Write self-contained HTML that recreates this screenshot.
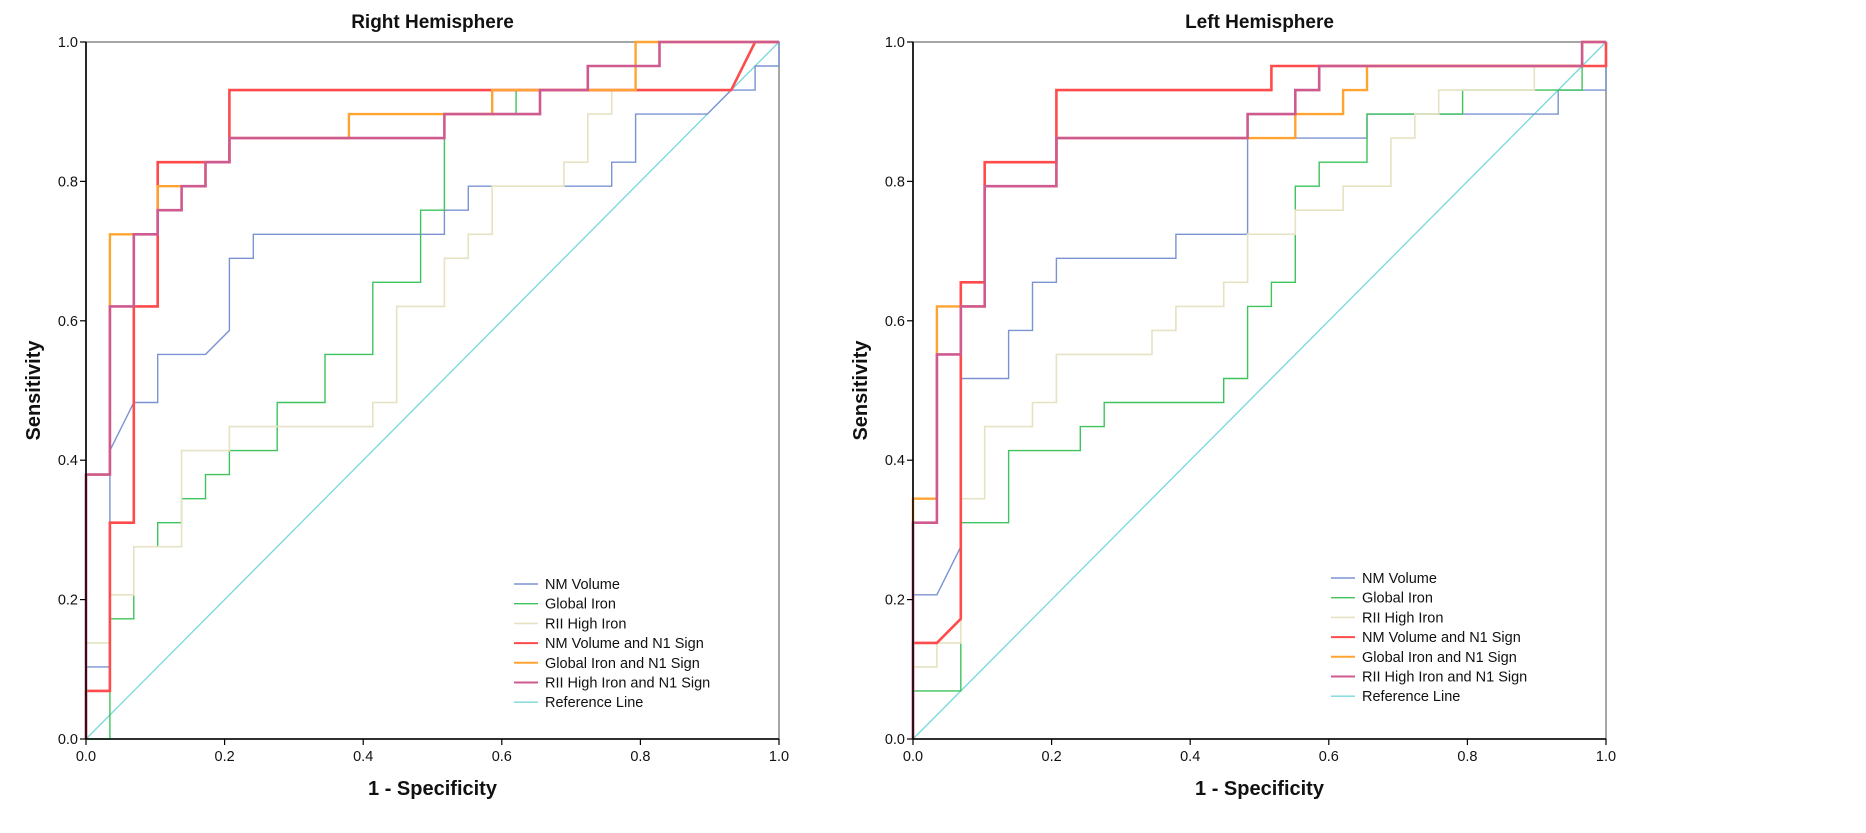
<!DOCTYPE html>
<html><head><meta charset="utf-8"><style>
html,body{margin:0;padding:0;background:#fff;}
svg{display:block;font-family:"Liberation Sans",sans-serif;}
</style></head><body>
<svg id="c" width="1866" height="833"></svg>
<script>
const N = 29;
const ticks = [0, 0.2, 0.4, 0.6, 0.8, 1.0];
const tickLabels = ["0.0","0.2","0.4","0.6","0.8","1.0"];
const seriesNames = ["NM Volume","Global Iron","RII High Iron","NM Volume and N1 Sign","Global Iron and N1 Sign","RII High Iron and N1 Sign","Reference Line"];
// Right hemisphere (counts out of N)
const rhNMx = [0,0,1,1,2,3,3,5,6,6,7,7,15,15,16,16,22,22,23,23,26,27,28,28,29,29];
const rhNMy = [0,3,3,12,14,14,16,16,17,20,20,21,21,22,22,23,23,24,24,26,26,27,27,28,28,29];
const rhGIx = [0,1,1,2,2,3,3,4,4,5,5,6,6,8,8,10,10,12,12,14,14,15,15,18,18,23,23,24,24,29];
const rhGIy = [0,0,5,5,8,8,9,9,10,10,11,11,12,12,14,14,16,16,19,19,22,22,26,26,27,27,28,28,29,29];
const rhRIx = [0,0,1,1,2,2,4,4,6,6,12,12,13,13,15,15,16,16,17,17,20,20,21,21,22,22,23,23,24,24,29];
const rhRIy = [0,4,4,6,6,8,8,12,12,13,13,14,14,18,18,20,20,21,21,23,23,24,24,26,26,27,27,28,28,29,29];
const rhNMN1x = [0,0,1,1,2,2,3,3,6,6,27,28,29];
const rhNMN1y = [0,2,2,9,9,18,18,24,24,27,27,29,29];
const rhGIN1x = [0,0,1,1,3,3,5,5,6,6,11,11,17,17,23,23,29];
const rhGIN1y = [0,11,11,21,21,23,23,24,24,25,25,26,26,27,27,29,29];
const rhRIN1x = [0,0,1,1,2,2,3,3,4,4,5,5,6,6,15,15,19,19,21,21,24,24,29];
const rhRIN1y = [0,11,11,18,18,21,21,22,22,23,23,24,24,25,25,26,26,27,27,28,28,29,29];
// Left hemisphere
const lhNMx = [0,0,1,2,2,4,4,5,5,6,6,11,11,14,14,19,19,27,27,29,29];
const lhNMy = [0,6,6,8,15,15,17,17,19,19,20,20,21,21,25,25,26,26,27,27,29];
const lhGIx = [0,0,2,2,4,4,7,7,8,8,13,13,14,14,15,15,16,16,17,17,19,19,23,23,28,28,29];
const lhGIy = [0,2,2,9,9,12,12,13,13,14,14,15,15,18,18,19,19,23,23,24,24,26,26,27,27,29,29];
const lhRIx = [0,0,1,1,2,2,3,3,5,5,6,6,10,10,11,11,13,13,14,14,16,16,18,18,20,20,21,21,22,22,26,26,28,28,29];
const lhRIy = [0,3,3,4,4,10,10,13,13,14,14,16,16,17,17,18,18,19,19,21,21,22,22,23,23,25,25,26,26,27,27,28,28,29,29];
const lhNMN1x = [0,0,1,2,2,3,3,6,6,15,15,29,29];
const lhNMN1y = [0,4,4,5,19,19,24,24,27,27,28,28,29];
const lhGIN1x = [0,0,1,1,2,3,3,6,6,16,16,18,18,19,19,28,28,29];
const lhGIN1y = [0,10,10,18,18,18,23,23,25,25,26,26,27,27,28,28,29,29];
const lhRIN1x = [0,0,1,1,2,2,3,3,6,6,14,14,16,16,17,17,28,28,29];
const lhRIN1y = [0,9,9,16,16,18,18,23,23,25,25,26,26,27,27,28,28,29,29];
const refX = [0,1];
const refY = [0,1];

const colors = ["#7b93d2","#3dc45c","#e6e2c2","#ff4b4b","#ffa432","#cf5a8f","#78d8dc"];
const widths = [1.4,1.4,1.6,2.6,2.4,2.6,1.3];
const NS = "http://www.w3.org/2000/svg";
const svg = document.getElementById("c");
function mk(tag, attrs, parent){const e=document.createElementNS(NS,tag);for(const k in attrs)e.setAttribute(k,attrs[k]);(parent||svg).appendChild(e);return e;}

function chart(cfg){
  const g = mk("g",{});
  
  
  const x0=cfg.x0, x1=cfg.x0+693, y0=739, y1=42;
  const sx=v=>x0+(x1-x0)*v, sy=v=>y0-(y0-y1)*v;
  const t = mk("text",{x:(x0+x1)/2,y:28,"text-anchor":"middle","font-size":19,"font-weight":"bold",fill:"#111"},g);
  t.textContent = cfg.title;
  
  
  const frame = mk("rect",{x:x0,y:y1,width:x1-x0,height:y0-y1,fill:"none",stroke:"#888","stroke-width":1.5},g);
  
  
  const order=[6,0,1,2,3,4,5];
  order.forEach(si=>{
    let xs, ys, scale;
    if(si===6){xs=refX;ys=refY;scale=1;} else {xs=cfg.data[si][0];ys=cfg.data[si][1];scale=N;}
    const pts = xs.map((v,i)=>sx(v/scale).toFixed(1)+","+sy(ys[i]/scale).toFixed(1)).join(" ");
    const pl = mk("polyline",{points:pts,fill:"none",stroke:colors[si],"stroke-width":widths[si],"stroke-linejoin":"miter"},g);
    
    
  });
  const ya = mk("line",{x1:x0,y1:y0,x2:x0,y2:y1,stroke:"#000","stroke-width":1.6},g);
  
  
  const xa = mk("line",{x1:x0,y1:y0,x2:x1,y2:y0,stroke:"#000","stroke-width":1.6},g);
  
  
  ticks.forEach((v,i)=>{
    const a=mk("line",{x1:x0-6,y1:sy(v),x2:x0,y2:sy(v),stroke:"#000","stroke-width":1.2},g);
    
    
    const l=mk("text",{x:x0-8,y:sy(v)+5,"text-anchor":"end","font-size":14.5,fill:"#111"},g);
    l.textContent=tickLabels[i];
    
    
    const b=mk("line",{x1:sx(v),y1:y0,x2:sx(v),y2:y0+6,stroke:"#000","stroke-width":1.2},g);
    
    
    const m=mk("text",{x:sx(v),y:y0+22,"text-anchor":"middle","font-size":14.5,fill:"#111"},g);
    m.textContent=tickLabels[i];
    
    
  });
  const xt = mk("text",{x:(x0+x1)/2,y:795,"text-anchor":"middle","font-size":20,"font-weight":"bold",fill:"#111"},g);
  xt.textContent="1 - Specificity";
  
  
  const ytx=x0-46, yty=(y0+y1)/2;
  const yt = mk("text",{x:ytx,y:yty,"text-anchor":"middle","font-size":20,"font-weight":"bold",fill:"#111",transform:`rotate(-90 ${ytx} ${yty})`},g);
  yt.textContent="Sensitivity";
  
  
  const lg = mk("g",{},g);
  
  
  seriesNames.forEach((nm,i)=>{
    const y=cfg.ly+i*19.7;
    const e=mk("g",{},lg);
    
    
    mk("line",{x1:cfg.lx,y1:y,x2:cfg.lx+24,y2:y,stroke:colors[i],"stroke-width":Math.min(widths[i],2)},e);
    const tx=mk("text",{x:cfg.lx+31,y:y+5,"font-size":14.5,fill:"#111"},e);
    tx.textContent=nm;
  });
}
chart({name:"right-hemisphere-chart",title:"Right Hemisphere",x0:86,lx:514,ly:584,
  data:[[rhNMx,rhNMy],[rhGIx,rhGIy],[rhRIx,rhRIy],[rhNMN1x,rhNMN1y],[rhGIN1x,rhGIN1y],[rhRIN1x,rhRIN1y]]});
chart({name:"left-hemisphere-chart",title:"Left Hemisphere",x0:913,lx:1331,ly:578,
  data:[[lhNMx,lhNMy],[lhGIx,lhGIy],[lhRIx,lhRIy],[lhNMN1x,lhNMN1y],[lhGIN1x,lhGIN1y],[lhRIN1x,lhRIN1y]]});
</script>
</body></html>
